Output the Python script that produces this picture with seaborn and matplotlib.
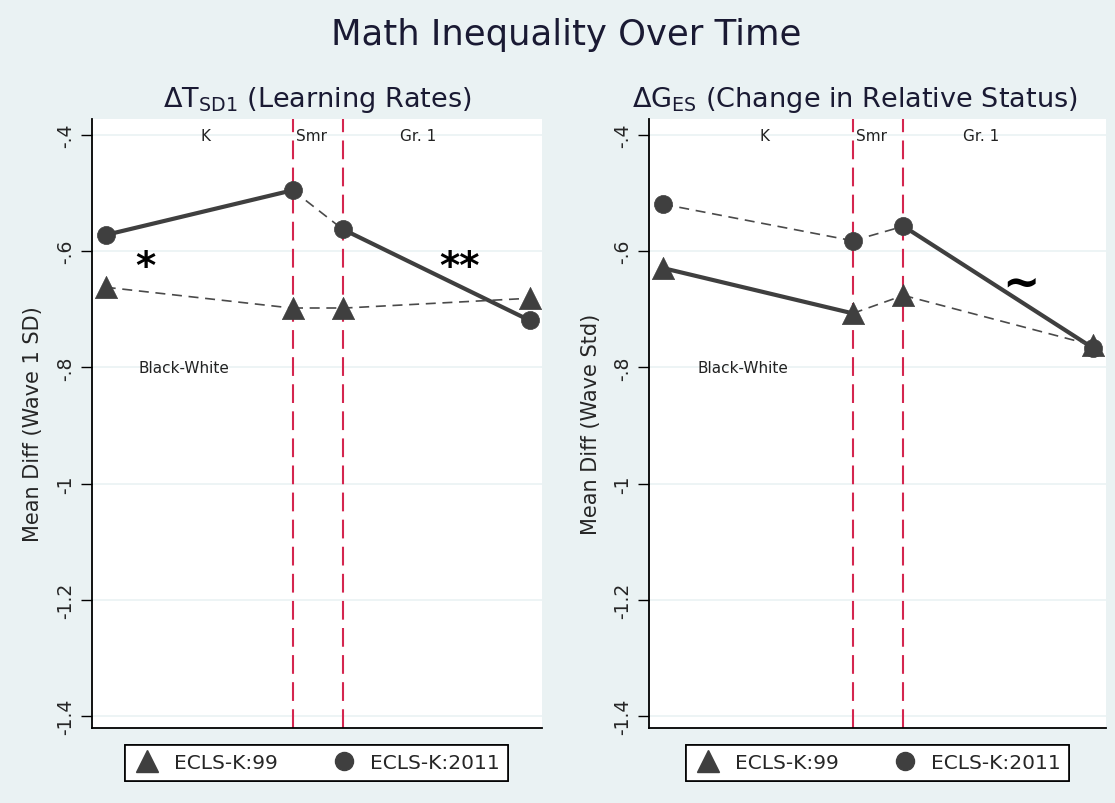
import matplotlib
matplotlib.use("Agg")
import matplotlib.pyplot as plt
from matplotlib.lines import Line2D
import numpy as np
import pandas as pd
import seaborn as sns


# wave timing (months since fall K) and the two summer boundaries
WAVE_X = [0, 7.5, 9.5, 17]
SUMMER_BOUNDS = [7.5, 9.5]

# panel 1: learning rates, panel 2: change in relative status
LR_99 = [-0.662, -0.698, -0.698, -0.681]
LR_2011 = [-0.572, -0.495, -0.562, -0.719]
ES_99 = [-0.629, -0.707, -0.676, -0.762]
ES_2011 = [-0.519, -0.582, -0.557, -0.767]

# segment styles (True = significant change, drawn solid and thick)
LR_99_SIG = [False, False, False]
LR_2011_SIG = [True, False, True]
ES_99_SIG = [True, False, False]
ES_2011_SIG = [False, False, True]

Y_TICKS = [-0.4, -0.6, -0.8, -1.0, -1.2, -1.4]
Y_TICK_LABELS = ["-.4", "-.6", "-.8", "-1", "-1.2", "-1.4"]
PERIODS = ["K", "Smr", "Gr. 1"]
PERIOD_X = [4.0, 8.25, 12.55]
SERIES = ["ECLS-K:99", "ECLS-K:2011"]

BG = "#EAF2F3"
INK = "#3f3f3f"
RED = "#d4264f"
W, H = 1115, 804


def draw_series(ax, values, sig, marker, ms):
    df = pd.DataFrame({"x": WAVE_X, "y": values})
    for i, s in enumerate(sig):
        seg = df.iloc[i:i + 2]
        if s:
            sns.lineplot(data=seg, x="x", y="y", ax=ax, color=INK, lw=3.0,
                         solid_capstyle="round", zorder=3)
        else:
            sns.lineplot(data=seg, x="x", y="y", ax=ax, color="#4a4a4a", lw=1.2,
                         linestyle=(0, (6, 4)), zorder=3)
    sns.scatterplot(data=df, x="x", y="y", ax=ax, marker=marker, s=ms ** 2,
                    color=INK, edgecolor=INK, linewidth=0.5, zorder=4)


def setup_panel(ax, ylabel, label_x):
    ax.set_facecolor("white")
    ax.set_xlim(-0.55, 17.5)
    ax.set_ylim(-1.4207, -0.3724)
    for y in Y_TICKS:
        ax.axhline(y, color=BG, lw=1.2, zorder=0)
    for x in SUMMER_BOUNDS:
        ax.axvline(x, color=RED, lw=1.5, linestyle=(0, (9, 4)), zorder=2)
    ax.set_yticks(Y_TICKS)
    ax.set_yticklabels(Y_TICK_LABELS, rotation=90, va="center", fontsize=13.5)
    ax.set_xticks([])
    ax.tick_params(axis="y", length=8, width=1, direction="out", pad=4, color="black", left=True)
    ax.set_xlabel("")
    ax.set_ylabel(ylabel, fontsize=15)
    ax.yaxis.set_label_coords(label_x, 0.5)
    for side in ["top", "right"]:
        ax.spines[side].set_visible(False)
    for side in ["left", "bottom"]:
        ax.spines[side].set_color("black")
        ax.spines[side].set_linewidth(1.3)
    for label, x in zip(PERIODS, PERIOD_X):
        ax.text(x, -0.4, label, ha="center", va="center", fontsize=11, color="#222222")
    ax.text(3.15, -0.8, "Black-White", ha="center", va="center", fontsize=11, color="#222222")


sns.set_theme(style="white")
plt.rcParams["font.family"] = ["DejaVu Sans"]
plt.rcParams["mathtext.fontset"] = "dejavusans"

fig = plt.figure(figsize=(W / 100, H / 100), dpi=100, facecolor=BG)
ax_l = fig.add_axes([92 / W, 1 - 729 / H, 450 / W, 609 / H])
ax_r = fig.add_axes([649 / W, 1 - 729 / H, 457 / W, 609 / H])

draw_series(ax_l, LR_2011, LR_2011_SIG, "o", 13)
draw_series(ax_l, LR_99, LR_99_SIG, "^", 16)
draw_series(ax_r, ES_2011, ES_2011_SIG, "o", 13)
draw_series(ax_r, ES_99, ES_99_SIG, "^", 16)

setup_panel(ax_l, "Mean Diff (Wave 1 SD)", -0.108)
setup_panel(ax_r, "Mean Diff (Wave Std)", -0.105)

ax_l.text(1.6, -0.628, "*", ha="center", va="center", fontsize=28, fontweight="bold", color="black")
ax_l.text(14.2, -0.628, "**", ha="center", va="center", fontsize=28, fontweight="bold", color="black")
ax_r.text(14.15, -0.655, "~", ha="center", va="center", fontsize=32, fontweight="bold", color="black")

fig.text(566 / W, 1 - 35 / H, "Math Inequality Over Time", ha="center", va="center",
         fontsize=25.5, color="#1a1a33")
fig.text(317 / W, 1 - 100 / H, r"$\Delta$T$_{\mathrm{SD1}}$ (Learning Rates)", ha="center",
         va="center", fontsize=19.5, color="#1a1a33")
fig.text(855 / W, 1 - 100 / H, r"$\Delta$G$_{\mathrm{ES}}$ (Change in Relative Status)", ha="center",
         va="center", fontsize=19.5, color="#1a1a33")

handles = [
    Line2D([], [], marker="^", ls="none", color=INK, ms=16, label=SERIES[0]),
    Line2D([], [], marker="o", ls="none", color=INK, ms=13, label=SERIES[1]),
]
for cx in [316.5, 877.5]:
    leg = fig.legend(handles=handles, loc="center", bbox_to_anchor=(cx / W, 1 - 764 / H),
                     ncol=2, fontsize=14.5, frameon=True, fancybox=False, framealpha=1,
                     edgecolor="black", handletextpad=0.6, columnspacing=2.6,
                     borderpad=0.4, handlelength=1.4)
    leg.get_frame().set_linewidth(1.2)
    fig.add_artist(leg)

fig.savefig("out.png", dpi=100, facecolor=BG)
